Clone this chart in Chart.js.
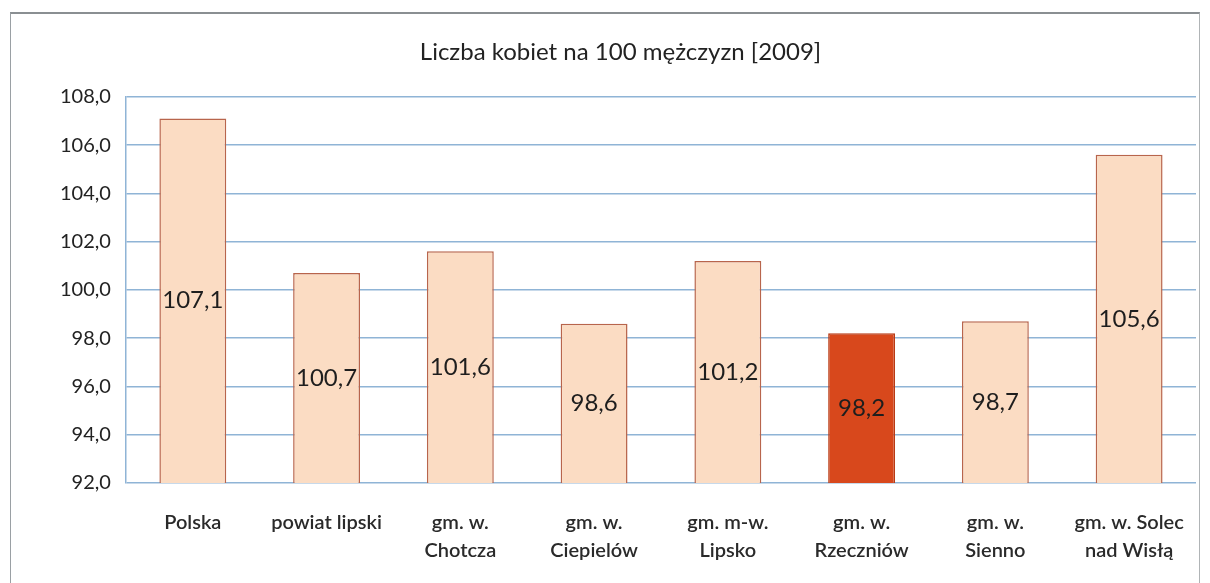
<!DOCTYPE html>
<html>
<head>
<meta charset="utf-8">
<script src="https://cdn.jsdelivr.net/npm/chart.js@4/dist/chart.umd.min.js"></script>
<style>
  body { margin: 0; background: #fff; }
  #wrap { position: relative; width: 1210px; height: 583px; }
  #frame { position: absolute; left: 10px; top: 12px; width: 1188px; height: 580px;
           border-top: 2px solid #8a8f92; border-left: 1px solid #9aa0a4; border-right: 1px solid #b0b4b6; }
  canvas { position: absolute; left: 0; top: 0; }
</style>
</head>
<body>
<div id="wrap">
  <div id="frame"></div>
  <canvas id="myChart" width="1210" height="583"></canvas>
</div>
<script>
// dane
let categories = [
  "Polska",
  "powiat lipski",
  ["gm. w.", "Chotcza"],
  ["gm. w.", "Ciepielów"],
  ["gm. m-w.", "Lipsko"],
  ["gm. w.", "Rzeczniów"],
  ["gm. w.", "Sienno"],
  ["gm. w. Solec", "nad Wisłą"]
];
let values = [107.1, 100.7, 101.6, 98.6, 101.2, 98.2, 98.7, 105.6];
let yTicks = [92, 94, 96, 98, 100, 102, 104, 106, 108];

let highlight = 5;
let fmt = v => Number(v).toFixed(1).replace(".", ",");

// etykiety wartosci w srodku slupka
let valueLabels = {
  id: "valueLabels",
  afterDraw(chart) {
    let ctx = chart.ctx;
    let meta = chart.getDatasetMeta(0);
    let yScale = chart.scales.y;
    ctx.save();
    ctx.font = "24px Lato";
    ctx.fillStyle = "#1e1e1e";
    ctx.textAlign = "center";
    ctx.textBaseline = "middle";
    meta.data.forEach((bar, i) => {
      let top = yScale.getPixelForValue(values[i]);
      let bottom = yScale.getPixelForValue(yScale.min);
      ctx.fillText(fmt(values[i]), bar.x, (top + bottom) / 2);
    });
    ctx.restore();
  }
};

let myChart = document.getElementById("myChart").getContext("2d");

let chart = new Chart(myChart, {
  type: "bar",
  data: {
    labels: categories,
    datasets: [
      {
        label: "Liczba kobiet na 100 mężczyzn",
        data: values,
        backgroundColor: values.map((v, i) => i == highlight ? "#d8481c" : "#fbdcc3"),
        borderColor: values.map((v, i) => i == highlight ? "#b93a14" : "#b8654c"),
        borderWidth: 1.5,
        categoryPercentage: 1,
        barPercentage: 0.5,
      },
    ],
  },
  options: {
    responsive: false,
    animation: false,
    layout: { padding: { left: 45, right: 14, top: 38, bottom: 0 } },
    plugins: {
      legend: { display: false },
      tooltip: { enabled: false },
      title: {
        display: true,
        text: "Liczba kobiet na 100 mężczyzn [2009]",
        color: "#222",
        font: { family: "Lato", size: 24, weight: "normal" },
        padding: { top: 0, bottom: 30 },
      },
    },
    scales: {
      x: {
        grid: { display: false },
        border: { display: false },
        ticks: {
          color: "#2a2a2a",
          font: { family: "Lato", size: 20, weight: "600", lineHeight: 1.4 },
          padding: 18,
          maxRotation: 0,
          autoSkip: false,
        },
      },
      y: {
        min: 92,
        max: 108,
        afterBuildTicks: axis => { axis.ticks = yTicks.map(v => ({ value: v })); },
        grid: { color: "#8fb4d6", lineWidth: 1.5, drawTicks: false },
        border: { color: "#8fb4d6", width: 1.5 },
        ticks: {
          color: "#222",
          font: { family: "Lato", size: 20 },
          padding: 15,
          callback: v => fmt(v),
        },
      },
    },
  },
  plugins: [valueLabels],
});
</script>
</body>
</html>
